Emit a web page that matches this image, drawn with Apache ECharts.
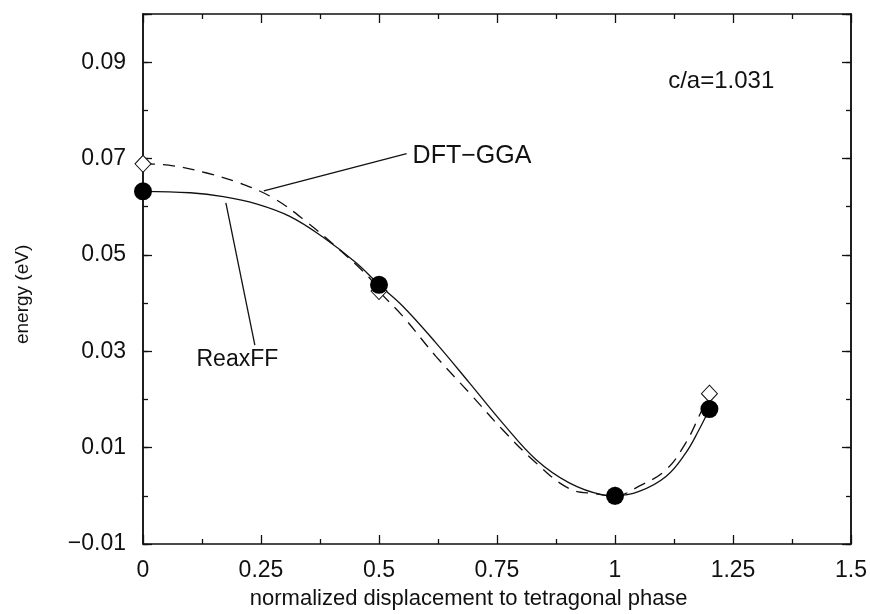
<!DOCTYPE html>
<html>
<head>
<meta charset="utf-8">
<script src="https://cdn.jsdelivr.net/npm/echarts@6/dist/echarts.min.js"></script>
<style>html,body{margin:0;padding:0;background:#fff;}#chart{width:870px;height:614px;}</style>
</head>
<body>
<div id="chart"></div>
<script>
// Data points
const pointX = [0, 0.5, 1.0, 1.2];
const reaxffPoints = [0.0632, 0.0438, 0.0, 0.0180];
const dftPoints = [0.0689, 0.0425, 0.0, 0.0212];

// Fitted curves
const reaxffCurveX = [0, 0.1, 0.17, 0.24, 0.311, 0.381, 0.452, 0.5, 0.551, 0.621, 0.692, 0.762, 0.833, 0.903, 0.974, 1.0, 1.051, 1.108, 1.15, 1.178, 1.2];
const reaxffCurveY = [0.0632, 0.0629, 0.0621, 0.0606, 0.0580, 0.0537, 0.0483, 0.0438, 0.0393, 0.0317, 0.0234, 0.0151, 0.0075, 0.0027, 0.0002, 0.0, 0.0009, 0.0040, 0.0089, 0.0137, 0.0180];
const dftCurveX = [0, 0.064, 0.135, 0.205, 0.276, 0.346, 0.417, 0.48, 0.5, 0.551, 0.621, 0.692, 0.762, 0.833, 0.903, 0.96, 1.0, 1.051, 1.108, 1.15, 1.178, 1.2];
const dftCurveY = [0.0689, 0.0685, 0.0670, 0.0649, 0.0618, 0.0569, 0.0510, 0.0452, 0.0425, 0.0372, 0.0289, 0.0213, 0.0137, 0.0068, 0.0015, 0.0004, 0.0, 0.0020, 0.0054, 0.0110, 0.0165, 0.0212];

// Annotations (data coordinates)
const annotationTexts = ['DFT\u2212GGA', 'ReaxFF', 'c/a=1.031'];
const dftLeader = [[0.256, 0.0633], [0.5585, 0.0710]];
const reaxLeader = [[0.1756, 0.0608], [0.237, 0.0313]];
const xTitle = 'normalized displacement to tetragonal phase';
const yTitle = 'energy (eV)';

const xTicks = [0, 0.25, 0.5, 0.75, 1, 1.25, 1.5];

const FONT = 'Liberation Sans, Arial, Helvetica, sans-serif';
const pair = (xs, ys) => xs.map((x, i) => [x, ys[i]]);

const chart = echarts.init(document.getElementById('chart'));
const axisLine = { show: true, onZero: false, lineStyle: { color: '#111', width: 1.5 } };
const xBase = {
  type: 'value', min: 0, max: 1.5, interval: 0.25,
  axisLine: axisLine, splitLine: { show: false },
  axisTick: { show: true, inside: true, length: 9, lineStyle: { color: '#111', width: 1.3 } },
  minorTick: { show: true, splitNumber: 2, length: 5, lineStyle: { color: '#111', width: 1.3 } }
};
const yMajor = {
  type: 'value', min: -0.01, max: 0.10, interval: 0.02,
  axisLine: axisLine, splitLine: { show: false },
  axisTick: { show: true, inside: true, length: 9, lineStyle: { color: '#111', width: 1.3 } }
};
const yMinor = {
  type: 'value', min: -0.01, max: 0.10, interval: 0.01,
  axisLine: axisLine, splitLine: { show: false }, axisLabel: { show: false },
  axisTick: { show: true, inside: true, length: 5, lineStyle: { color: '#111', width: 1.3 } }
};

chart.setOption({
  animation: false,
  backgroundColor: '#fff',
  grid: { left: 143, right: 18, top: 14, bottom: 70, containLabel: false },
  xAxis: [
    Object.assign({}, xBase, {
      position: 'bottom',
      axisLabel: { show: true, margin: 15, fontFamily: FONT, fontSize: 23, color: '#111',
        formatter: v => { const s = xTicks.find(t => Math.abs(t - v) < 1e-9); return s === undefined ? '' : String(s); } }
    }),
    Object.assign({}, xBase, { position: 'top', axisLabel: { show: false } })
  ],
  yAxis: [
    Object.assign({}, yMajor, {
      position: 'left',
      axisLabel: { show: true, margin: 17, fontFamily: FONT, fontSize: 23, color: '#111',
        formatter: v => v > 0.095 ? '' : (v < 0 ? '\u2212' + Math.abs(v).toFixed(2) : v.toFixed(2)) }
    }),
    Object.assign({}, yMinor, { position: 'left' }),
    Object.assign({}, yMajor, { position: 'right', axisLabel: { show: false } }),
    Object.assign({}, yMinor, { position: 'right' })
  ],
  series: [
    { type: 'line', name: 'DFT-GGA fit', data: pair(dftCurveX, dftCurveY), smooth: 0.4, showSymbol: false,
      lineStyle: { color: '#111', width: 1.3, type: [12, 8] }, z: 2 },
    { type: 'line', name: 'ReaxFF fit', data: pair(reaxffCurveX, reaxffCurveY), smooth: 0.4, showSymbol: false,
      lineStyle: { color: '#111', width: 1.3 }, z: 2 },
    { type: 'scatter', name: 'DFT-GGA', data: pair(pointX, dftPoints), symbol: 'diamond', symbolSize: [16, 17],
      itemStyle: { color: '#fff', borderColor: '#111', borderWidth: 1, opacity: 1 }, z: 3 },
    { type: 'scatter', name: 'ReaxFF', data: pair(pointX, reaxffPoints), symbol: 'circle', symbolSize: 18,
      itemStyle: { color: '#000', opacity: 1 }, z: 4 },
    { type: 'line', name: 'dft leader', data: dftLeader, showSymbol: false, silent: true,
      lineStyle: { color: '#111', width: 1.3 }, z: 2 },
    { type: 'line', name: 'reax leader', data: reaxLeader, showSymbol: false, silent: true,
      lineStyle: { color: '#111', width: 1.3 }, z: 2 }
  ]
});

// text annotations placed from data coordinates
const p1 = chart.convertToPixel({ gridIndex: 0 }, [0.5585, 0.0710]);
const p2 = chart.convertToPixel({ gridIndex: 0 }, [0.2, 0.0283]);
const p3 = chart.convertToPixel({ gridIndex: 0 }, [1.225, 0.0861]);
const px = chart.convertToPixel({ gridIndex: 0 }, [0.69, -0.0215]);
const py = chart.convertToPixel({ gridIndex: 0 }, [-0.2545, 0.0418]);
chart.setOption({
  graphic: [
    { type: 'text', x: p1[0] + 6, y: p1[1] + 2, style: { text: annotationTexts[0], font: '25px ' + FONT, fill: '#111', textAlign: 'left', textVerticalAlign: 'middle' } },
    { type: 'text', x: p2[0], y: p2[1], style: { text: annotationTexts[1], font: '23px ' + FONT, fill: '#111', textAlign: 'center', textVerticalAlign: 'middle' } },
    { type: 'text', x: p3[0], y: p3[1], style: { text: annotationTexts[2], font: '24px ' + FONT, fill: '#111', textAlign: 'center', textVerticalAlign: 'middle' } },
    { type: 'text', x: px[0], y: px[1], style: { text: xTitle, font: '22px ' + FONT, fill: '#111', textAlign: 'center', textVerticalAlign: 'middle' } },
    { type: 'text', x: py[0], y: py[1], rotation: Math.PI / 2, style: { text: yTitle, font: '19px ' + FONT, fill: '#111', textAlign: 'center', textVerticalAlign: 'middle' } }
  ]
});
</script>
</body>
</html>
